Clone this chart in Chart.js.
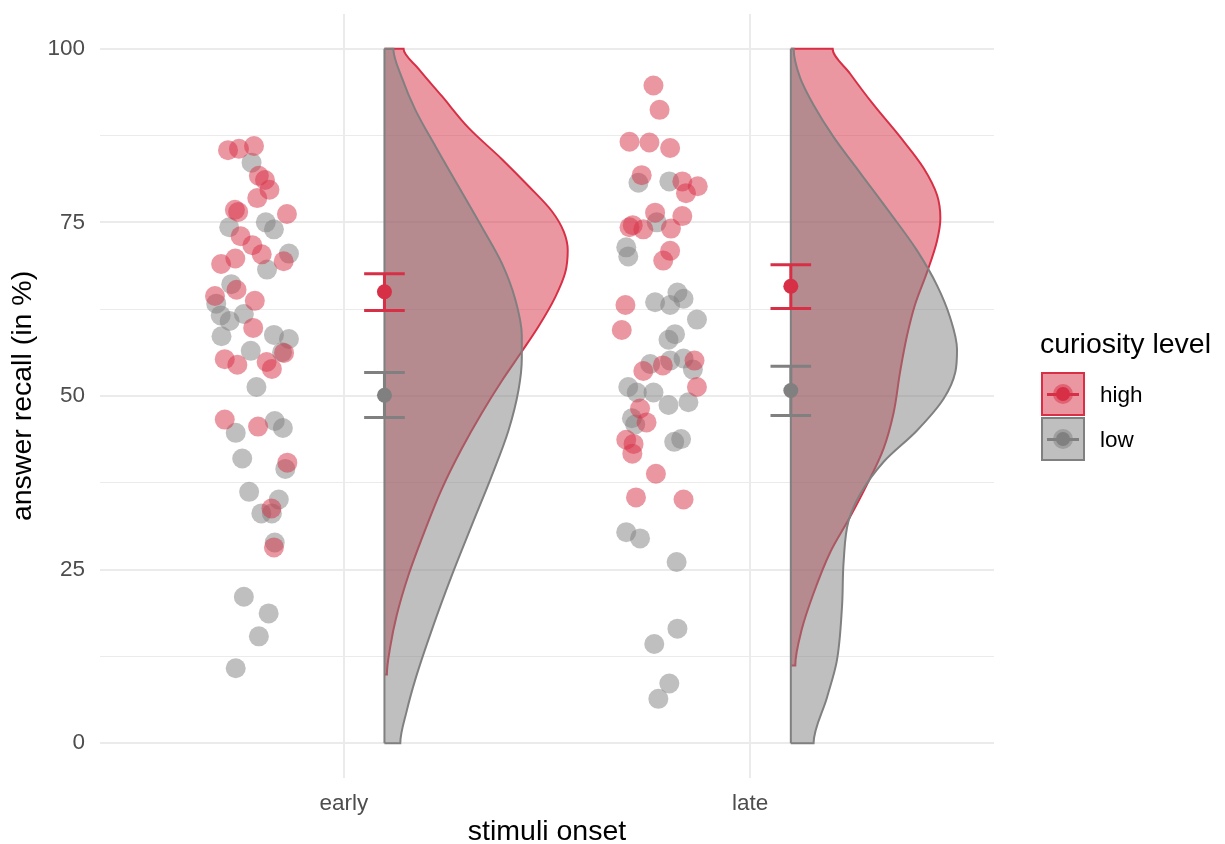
<!DOCTYPE html>
<html>
<head>
<meta charset="utf-8">
<script src="https://cdn.jsdelivr.net/npm/chart.js@4"></script>
<style>
  body { margin: 0; background: #fff; font-family: "Liberation Sans", Arial, sans-serif; }
  #wrap { position: relative; width: 1225px; height: 844px; }
  .lg-title { position: absolute; left: 1040px; top: 326px; font-size: 28.5px; line-height: 34px; color: #000; white-space: nowrap; }
  .lg-key { position: absolute; left: 1041px; width: 40px; height: 40px; border: 2px solid; }
  .lg-key .ln { position: absolute; left: 4px; right: 4px; top: 18.5px; height: 3px; }
  .lg-key .halo { position: absolute; left: 10px; top: 10px; width: 20px; height: 20px; border-radius: 50%; }
  .lg-key .dot { position: absolute; left: 13px; top: 13px; width: 14px; height: 14px; border-radius: 50%; }
  .lg-label { position: absolute; left: 1100px; font-size: 22.5px; line-height: 27px; color: #000; }
</style>
</head>
<body>
<div id="wrap">
  <canvas id="myChart"></canvas>
  <div class="lg-title">curiosity level</div>
  <div class="lg-key" id="key_high" style="top:372px"><div class="ln"></div><div class="halo"></div><div class="dot"></div></div>
  <div class="lg-label" style="top:381px">high</div>
  <div class="lg-key" id="key_low" style="top:417px"><div class="ln"></div><div class="halo"></div><div class="dot"></div></div>
  <div class="lg-label" style="top:426px">low</div>
</div>
<script>
var categories = ['early', 'late'];
var levels = ['high', 'low'];

// pontos individuais: deslocamento horizontal (jitter) e valor
var earlyHighJit = [-0.285,-0.258,-0.221,-0.209,-0.194,-0.183,-0.213,-0.268,-0.260,-0.140,-0.254,-0.225,-0.202,-0.302,-0.267,-0.148,-0.264,-0.317,-0.219,-0.223,-0.293,-0.262,-0.190,-0.177,-0.147,-0.293,-0.211,-0.139,-0.178,-0.172];
var earlyHighVal = [85.4,85.6,86.0,81.7,81.1,79.7,78.5,76.8,76.5,76.2,73.0,71.7,70.4,69.0,69.8,69.4,65.3,64.4,63.7,59.8,55.3,54.5,54.9,53.9,56.2,46.6,45.6,40.4,33.8,28.2];
var earlyLowJit = [-0.227,-0.192,-0.172,-0.282,-0.135,-0.189,-0.277,-0.314,-0.303,-0.281,-0.246,-0.301,-0.172,-0.135,-0.229,-0.152,-0.215,-0.266,-0.170,-0.150,-0.250,-0.144,-0.233,-0.160,-0.203,-0.177,-0.170,-0.246,-0.185,-0.209,-0.266];
var earlyLowVal = [83.6,75.0,74.0,74.3,70.5,68.2,66.1,63.3,61.6,60.8,61.8,58.6,58.8,58.2,56.5,56.3,51.3,44.7,46.4,45.4,41.0,39.5,36.2,35.1,33.1,33.1,28.9,21.1,18.7,15.4,10.8];
var lateHighJit = [-0.238,-0.223,-0.297,-0.248,-0.197,-0.267,-0.167,-0.129,-0.158,-0.234,-0.167,-0.297,-0.289,-0.263,-0.195,-0.197,-0.214,-0.307,-0.316,-0.263,-0.215,-0.137,-0.131,-0.271,-0.255,-0.305,-0.287,-0.290,-0.232,-0.281,-0.164];
var lateHighVal = [94.7,91.2,86.6,86.5,85.7,81.8,80.9,80.2,79.2,76.4,75.9,74.3,74.6,74.0,74.1,70.9,69.5,63.1,59.5,53.6,54.4,55.1,51.3,48.2,46.2,43.7,43.1,41.7,38.8,35.4,35.1];
var lateLowJit = [-0.275,-0.199,-0.230,-0.305,-0.300,-0.179,-0.164,-0.234,-0.197,-0.131,-0.185,-0.201,-0.246,-0.197,-0.164,-0.141,-0.300,-0.279,-0.238,-0.201,-0.152,-0.291,-0.283,-0.187,-0.170,-0.305,-0.271,-0.181,-0.179,-0.236,-0.199,-0.226];
var lateLowVal = [80.7,80.9,75.0,71.4,70.1,64.9,64.0,63.5,63.1,61.0,58.9,58.1,54.6,55.1,55.4,53.8,51.3,50.5,50.5,48.7,49.1,46.8,45.9,43.4,43.8,30.4,29.5,26.1,16.5,14.3,8.6,6.4];

// médias e intervalos (early, late)
var highMean = [65.0, 65.8];
var highLower = [62.3, 62.6];
var highUpper = [67.6, 68.9];
var lowMean = [50.1, 50.8];
var lowLower = [46.9, 47.2];
var lowUpper = [53.4, 54.3];

// meio-violinos: valor (y) e largura da densidade
var earlyHighViolinY = [100, 97.1, 93.2, 88.6, 84.1, 80.2, 76.6, 73.7, 71.0, 67.8, 64.2, 60.0, 56.4, 52.2, 47.6, 42.4, 36.6, 30.7, 24.2, 18.4, 13.8, 9.9];
var earlyHighViolinW = [0.047, 0.084, 0.141, 0.207, 0.289, 0.355, 0.412, 0.441, 0.451, 0.445, 0.420, 0.379, 0.338, 0.289, 0.240, 0.190, 0.141, 0.100, 0.059, 0.030, 0.014, 0.006];
var earlyLowViolinY = [100, 95.8, 91.2, 86.0, 80.2, 74.3, 69.1, 63.9, 58.7, 55.4, 50.9, 45.0, 38.5, 31.4, 24.2, 16.4, 9.2, 4.7, 0];
var earlyLowViolinW = [0.022, 0.043, 0.076, 0.125, 0.182, 0.240, 0.289, 0.322, 0.338, 0.338, 0.330, 0.305, 0.264, 0.215, 0.166, 0.117, 0.076, 0.055, 0.039];
var lateHighViolinY = [100, 96.4, 91.9, 87.3, 82.8, 78.9, 75.6, 72.4, 67.8, 63.2, 58.7, 53.5, 47.6, 42.4, 37.2, 32.6, 27.5, 21.6, 16.4, 11.2];
var lateHighViolinW = [0.103, 0.146, 0.204, 0.269, 0.327, 0.360, 0.368, 0.360, 0.335, 0.306, 0.286, 0.269, 0.253, 0.228, 0.187, 0.146, 0.097, 0.056, 0.027, 0.011];
var lateLowViolinY = [100, 95.8, 91.9, 87.3, 82.1, 76.3, 71.0, 65.9, 61.3, 56.7, 53.5, 49.6, 45.0, 40.5, 35.9, 32.0, 26.2, 19.7, 11.8, 6.6, 0];
var lateLowViolinW = [0.007, 0.023, 0.056, 0.105, 0.171, 0.245, 0.310, 0.360, 0.392, 0.409, 0.405, 0.376, 0.310, 0.228, 0.171, 0.142, 0.130, 0.126, 0.113, 0.089, 0.056];

// cores
var RED = 'rgb(215,48,70)';
var RED_A = 'rgba(215,48,70,0.5)';
var GREY = 'rgb(128,128,128)';
var GREY_A = 'rgba(128,128,128,0.5)';

var sideShift = 0.1;   // violino e barras ficam à direita da categoria
var capHalf = 0.05;

document.querySelector('#key_high').style.cssText += ';border-color:' + RED + ';background:' + RED_A;
document.querySelector('#key_high .ln').style.background = RED;
document.querySelector('#key_high .halo').style.background = RED_A;
document.querySelector('#key_high .dot').style.background = RED;
document.querySelector('#key_low').style.cssText += ';border-color:' + GREY + ';background:' + GREY_A;
document.querySelector('#key_low .ln').style.background = GREY;
document.querySelector('#key_low .halo').style.background = GREY_A;
document.querySelector('#key_low .dot').style.background = GREY;

function jitterPoints(cat, offs, vals) {
  return offs.map(function (o, i) { return { x: cat + 1 + o, y: vals[i] }; });
}

function violinPoints(cat, ys, ws) {
  var base = cat + 1 + sideShift;
  var pts = [{ x: base, y: ys[0] }];
  ys.forEach(function (y, i) { pts.push({ x: base + ws[i], y: y }); });
  pts.push({ x: base, y: ys[ys.length - 1] });
  return pts;
}

// contorno do violino, suavizado ao longo de y e preenchido até a base
function violinSet(cat, ys, ws, line, fillC, order) {
  return { type: 'line', indexAxis: 'y', data: violinPoints(cat, ys, ws),
           fill: { value: cat + 1 + sideShift }, cubicInterpolationMode: 'monotone',
           borderColor: line, backgroundColor: fillC, borderWidth: 2, pointRadius: 0, order: order };
}

function baseLine(cat, ys, c, order) {
  var base = cat + 1 + sideShift;
  return { type: 'line', indexAxis: 'y', data: [{ x: base, y: ys[0] }, { x: base, y: ys[ys.length - 1] }],
           fill: false, borderColor: c, borderWidth: 2, pointRadius: 0, order: order };
}

function errorBar(cat, lo, hi) {
  var x = cat + 1 + sideShift;
  return [
    { x: x - capHalf, y: hi }, { x: x + capHalf, y: hi }, { x: x, y: hi },
    { x: x, y: lo }, { x: x - capHalf, y: lo }, { x: x + capHalf, y: lo }
  ];
}

function barSet(pts, c) {
  return { data: pts, showLine: true, fill: false, borderColor: c, borderWidth: 3,
           pointRadius: 0, tension: 0, order: 2 };
}

var datasets = [
  violinSet(0, earlyHighViolinY, earlyHighViolinW, RED, RED_A, 7),
  violinSet(1, lateHighViolinY, lateHighViolinW, RED, RED_A, 7),
  violinSet(0, earlyLowViolinY, earlyLowViolinW, GREY, GREY_A, 6),
  violinSet(1, lateLowViolinY, lateLowViolinW, GREY, GREY_A, 6),
  baseLine(0, earlyLowViolinY, GREY, 5),
  baseLine(1, lateLowViolinY, GREY, 5),
  { data: jitterPoints(0, earlyLowJit, earlyLowVal).concat(jitterPoints(1, lateLowJit, lateLowVal)),
    pointRadius: 10, pointBackgroundColor: GREY_A, pointBorderWidth: 0, order: 4 },
  { data: jitterPoints(0, earlyHighJit, earlyHighVal).concat(jitterPoints(1, lateHighJit, lateHighVal)),
    pointRadius: 10, pointBackgroundColor: RED_A, pointBorderWidth: 0, order: 3 },
  barSet(errorBar(0, highLower[0], highUpper[0]), RED),
  barSet(errorBar(1, highLower[1], highUpper[1]), RED),
  barSet(errorBar(0, lowLower[0], lowUpper[0]), GREY),
  barSet(errorBar(1, lowLower[1], lowUpper[1]), GREY),
  { data: highMean.map(function (m, i) { return { x: i + 1 + sideShift, y: m }; }),
    pointRadius: 7.5, pointBackgroundColor: RED, pointBorderWidth: 0, order: 1 },
  { data: lowMean.map(function (m, i) { return { x: i + 1 + sideShift, y: m }; }),
    pointRadius: 7.5, pointBackgroundColor: GREY, pointBorderWidth: 0, order: 1 }
];

var ctx = document.getElementById('myChart').getContext('2d');
var chart = new Chart(ctx, {
  type: 'scatter',
  data: { datasets: datasets },
  options: {
    responsive: true,
    maintainAspectRatio: false,
    animation: false,
    events: [],
    layout: { padding: { top: 0, right: 231, left: 0, bottom: 0 } },
    plugins: { legend: { display: false }, tooltip: { enabled: false } },
    scales: {
      x: {
        type: 'linear', min: 0.4, max: 2.6,
        afterBuildTicks: function (scale) {
          scale.ticks = categories.map(function (c, i) { return { value: i + 1 }; });
        },
        afterFit: function (scale) { scale.height = 66; },
        border: { display: false },
        grid: { color: '#EBEBEB', lineWidth: 2, drawTicks: false },
        ticks: {
          padding: 12, color: '#4D4D4D',
          font: { family: '"Liberation Sans", Arial, sans-serif', size: 22.5 },
          callback: function (v) { return categories[v - 1]; }
        },
        title: { display: true, text: 'stimuli onset', color: '#000', padding: 0,
                 font: { family: '"Liberation Sans", Arial, sans-serif', size: 28.5, lineHeight: 0.8 } }
      },
      y: {
        type: 'linear', min: -5, max: 105,
        afterBuildTicks: function (scale) {
          var t = [];
          for (var v = 0; v <= 100; v += 12.5) t.push({ value: v });
          scale.ticks = t;
        },
        afterFit: function (scale) {
          scale.width = 100;
          scale.paddingTop = 14;
          scale.paddingBottom = 0;
        },
        border: { display: false },
        grid: {
          color: '#EBEBEB', drawTicks: false,
          lineWidth: function (c) { return c.tick && c.tick.value % 25 === 0 ? 2 : 1; }
        },
        ticks: {
          padding: 15, color: '#4D4D4D',
          font: { family: '"Liberation Sans", Arial, sans-serif', size: 22.5 },
          callback: function (v) { return v % 25 === 0 ? String(v) : ''; }
        },
        title: { display: true, text: 'answer recall (in %)', color: '#000', padding: { top: 6, bottom: 0 },
                 font: { family: '"Liberation Sans", Arial, sans-serif', size: 28.5 } }
      }
    }
  }
});
</script>
</body>
</html>
